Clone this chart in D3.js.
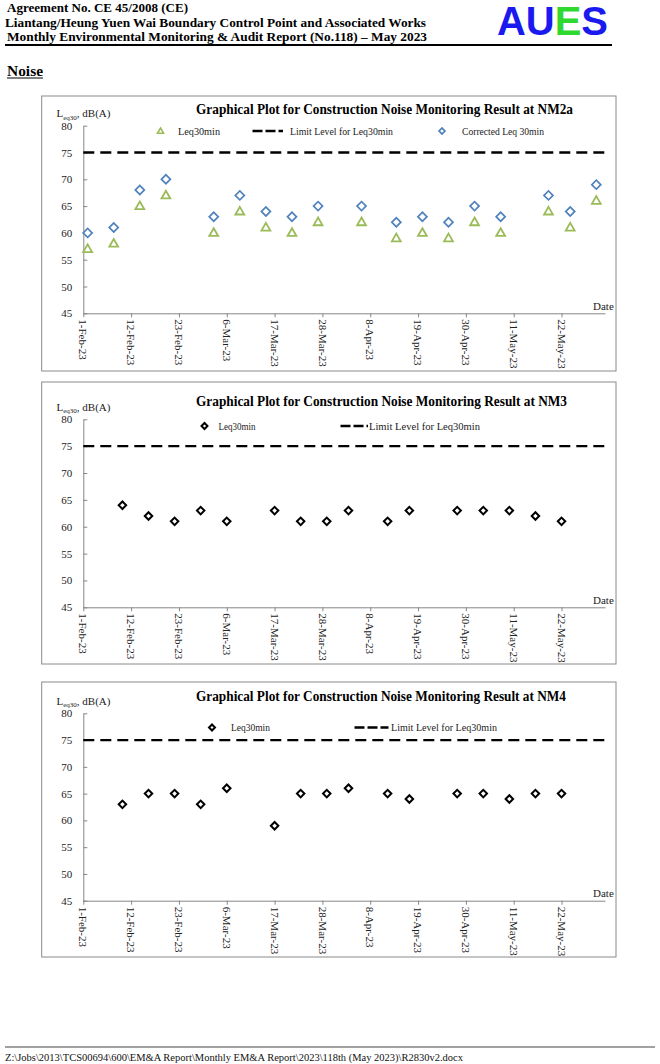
<!DOCTYPE html>
<html><head><meta charset="utf-8">
<script src="https://cdn.jsdelivr.net/npm/d3@7"></script>
<style>
body{margin:0;background:#fff}
svg{display:block}
text{font-family:"Liberation Serif","Times New Roman",serif}
text.logo{font-family:"Liberation Sans",Arial,sans-serif}
</style>
</head><body>
<svg id="c" width="660" height="1064"></svg>
<script>
// ---------- data ----------
const headerLines = [
  "Agreement No. CE 45/2008 (CE)",
  "Liantang/Heung Yuen Wai Boundary Control Point and Associated Works",
  "Monthly Environmental Monitoring & Audit Report (No.118) \u2013 May 2023"
];
const sectionTitle = "Noise";
const footerText = "Z:\\Jobs\\2013\\TCS00694\\600\\EM&A Report\\Monthly EM&A Report\\2023\\118th (May 2023)\\R2830v2.docx";
const xTickLabels = ["1-Feb-23","12-Feb-23","23-Feb-23","6-Mar-23","17-Mar-23","28-Mar-23","8-Apr-23","19-Apr-23","30-Apr-23","11-May-23","22-May-23"];
const xDomain = ["1-Feb-23","1-Jun-23"];
const yTickValues = [45,50,55,60,65,70,75,80];
const yDomain = [45,80];
const limitLevel = 75;

const nm2aDates = ["2023-02-02","2023-02-08","2023-02-14","2023-02-20","2023-03-03","2023-03-09","2023-03-15","2023-03-21","2023-03-27","2023-04-06","2023-04-14","2023-04-20","2023-04-26","2023-05-02","2023-05-08","2023-05-19","2023-05-24","2023-05-30"];
const nm2aLeq       = [57,58,65,67,60,64,61,60,62,62,59,60,59,62,60,64,61,66];
const nm2aCorrected = [60,61,68,70,63,67,64,63,65,65,62,63,62,65,63,67,64,69];

const nm3Dates = ["2023-02-10","2023-02-16","2023-02-22","2023-02-28","2023-03-06","2023-03-17","2023-03-23","2023-03-29","2023-04-03","2023-04-12","2023-04-17","2023-04-28","2023-05-04","2023-05-10","2023-05-16","2023-05-22"];
const nm3Leq = [64,62,61,63,61,63,61,61,63,61,63,63,63,63,62,61];

const nm4Dates = ["2023-02-10","2023-02-16","2023-02-22","2023-02-28","2023-03-06","2023-03-17","2023-03-23","2023-03-29","2023-04-03","2023-04-12","2023-04-17","2023-04-28","2023-05-04","2023-05-10","2023-05-16","2023-05-22"];
const nm4Leq = [63,65,65,63,66,59,65,65,66,65,64,65,65,64,65,65];

// ---------- drawing ----------
const svg = d3.select("#c");
const SERIF = "'Liberation Serif','Times New Roman',serif";
const parseDay = d3.utcParse("%Y-%m-%d");
const parseTick = d3.utcParse("%d-%b-%y");
const tickDates = xTickLabels.map(parseTick);
const x = d3.scaleUtc().domain(xDomain.map(parseTick)).range([83.3, 605]);
const axisColor = "#868686";
const BLUE = "#4f81bd", GREEN = "#9bbb59";

function fitText(t, w){ t.attr("textLength", w).attr("lengthAdjust","spacingAndGlyphs"); return t; }

// header
const hdr = [{y:11.5,w:181},{y:26.8,w:421},{y:41,w:420}];
headerLines.forEach((s,i)=>{
  fitText(svg.append("text").attr("x",i===1?5:7).attr("y",hdr[i].y).attr("font-size",13)
    .attr("font-weight","bold").attr("fill","#000").text(s), hdr[i].w);
});
svg.append("line").attr("x1",5).attr("x2",612).attr("y1",45).attr("y2",45).attr("stroke","#000").attr("stroke-width",1.8);
const logo = svg.append("text").attr("class","logo").attr("x",497).attr("y",35).attr("font-size",40)
  .attr("font-weight","bold");
[["AU","#1a1aef"],["E","#2fd92f"],["S","#1a1aef"]].forEach(([s,c])=>logo.append("tspan").attr("fill",c).text(s));
fitText(logo,111);

fitText(svg.append("text").attr("x",7).attr("y",75.5).attr("font-size",15).attr("font-weight","bold").text(sectionTitle),36);
svg.append("line").attr("x1",7).attr("x2",43).attr("y1",78).attr("y2",78).attr("stroke","#000").attr("stroke-width",1.2);

// footer
svg.append("line").attr("x1",5).attr("x2",655).attr("y1",1047).attr("y2",1047).attr("stroke","#444").attr("stroke-width",1);
fitText(svg.append("text").attr("x",5).attr("y",1061).attr("font-size",10).attr("fill","#111").text(footerText),458);

const diamond = (s)=> d3.symbol(d3.symbolSquare, s*s/2)();  // rotated 45deg -> diagonal = s
function drawPanel(cfg){
  const g = svg.append("g");
  g.append("rect").attr("x",cfg.box[0]).attr("y",cfg.box[1]).attr("width",cfg.box[2]-cfg.box[0]).attr("height",cfg.box[3]-cfg.box[1])
    .attr("fill","#fff").attr("stroke","#8a8a8a").attr("stroke-width",1);
  const y = d3.scaleLinear().domain(yDomain).range([cfg.yBottom, cfg.yTop]);

  // title
  fitText(g.append("text").attr("x",196).attr("y",cfg.titleY).attr("font-size",14).attr("font-weight","bold").text(cfg.title), cfg.titleW);
  // y label
  const yl = g.append("text").attr("x",56.5).attr("y",cfg.yTop-8.5).attr("font-size",11).attr("fill","#222");
  yl.append("tspan").text("L");
  yl.append("tspan").attr("font-size",7).attr("dy",2.5).text("eq30");
  yl.append("tspan").attr("dy",-2.5).text(", dB(A)");

  // y axis
  const ya = g.append("g").attr("transform",`translate(${x.range()[0]},0)`)
    .call(d3.axisLeft(y).tickValues(yTickValues).tickSizeInner(-4).tickSizeOuter(0).tickPadding(11));
  ya.attr("font-family",SERIF).attr("font-size",11);
  ya.select(".domain").attr("stroke",axisColor);
  ya.selectAll(".tick line").attr("stroke",axisColor);
  ya.selectAll(".tick text").attr("fill","#222");

  // x axis
  const xa = g.append("g").attr("transform",`translate(0,${cfg.yBottom})`)
    .call(d3.axisBottom(x).tickValues(tickDates).tickFormat((d,i)=>xTickLabels[i]).tickSizeInner(4).tickSizeOuter(0));
  xa.attr("font-family",SERIF).attr("font-size",11);
  xa.select(".domain").attr("stroke",axisColor);
  xa.selectAll(".tick line").attr("stroke",axisColor);
  xa.selectAll(".tick text").attr("fill","#222").attr("transform","rotate(90)")
    .attr("x",6).attr("y",0).attr("dy","0.4em").attr("text-anchor","start");
  g.append("text").attr("x",593).attr("y",cfg.yBottom-3.5).attr("font-size",11).attr("fill","#222").text("Date");

  // limit line
  g.append("line").attr("x1",x.range()[0]).attr("x2",x.range()[1]).attr("y1",y(limitLevel)).attr("y2",y(limitLevel))
    .attr("stroke","#000").attr("stroke-width",2.3).attr("stroke-dasharray","11,6");

  // series
  cfg.series.forEach(s=>{
    const pts = s.dates.map((d,i)=>({d:parseDay(d), v:s.values[i]}));
    g.append("g").selectAll("path").data(pts).join("path")
      .attr("d", s.shape==="tri" ? d3.symbol(d3.symbolTriangle, 34)() : diamond(s.size))
      .attr("transform", p=>`translate(${x(p.d)},${y(p.v)})` + (s.shape==="tri"?" translate(0,0.5)":" rotate(45)"))
      .attr("fill","#fff").attr("stroke",s.color).attr("stroke-width",s.sw);
  });

  // legend
  const ly = cfg.legendY;
  cfg.legend.forEach(L=>{
    if(L.kind==="tri"){
      g.append("path").attr("d",d3.symbol(d3.symbolTriangle,16)()).attr("transform",`translate(${L.mx},${ly+0.5})`)
        .attr("fill","#fff").attr("stroke",L.color).attr("stroke-width",1.6);
    } else if(L.kind==="dia"){
      g.append("path").attr("d",diamond(L.size)).attr("transform",`translate(${L.mx},${ly}) rotate(45)`)
        .attr("fill","#fff").attr("stroke",L.color).attr("stroke-width",L.sw);
    } else {
      g.append("line").attr("x1",L.mx).attr("x2",L.mx2).attr("y1",ly).attr("y2",ly)
        .attr("stroke","#000").attr("stroke-width",2.3).attr("stroke-dasharray","10,3");
    }
    fitText(g.append("text").attr("x",L.tx).attr("y",ly+3.5).attr("font-size",10).attr("fill","#222").text(L.text), L.tw);
  });
}

drawPanel({
  box:[41.7,96,616,371], yTop:125.7, yBottom:313.3, titleY:114, titleW:377,
  title:"Graphical Plot for Construction Noise Monitoring Result at NM2a",
  legendY:131,
  series:[
    {dates:nm2aDates, values:nm2aLeq, shape:"tri", color:GREEN, sw:1.8},
    {dates:nm2aDates, values:nm2aCorrected, shape:"dia", size:9, color:BLUE, sw:1.7}
  ],
  legend:[
    {kind:"tri", mx:160.5, color:GREEN, tx:178, text:"Leq30min", tw:42},
    {kind:"dash", mx:252.5, mx2:283, tx:290, text:"Limit Level for Leq30min", tw:103},
    {kind:"dia", mx:442, size:6, color:BLUE, sw:1.6, tx:462, text:"Corrected Leq 30min", tw:82}
  ]
});
drawPanel({
  box:[41.7,382,616,664], yTop:419.3, yBottom:607.3, titleY:406, titleW:371,
  title:"Graphical Plot for Construction Noise Monitoring Result at NM3",
  legendY:426,
  series:[{dates:nm3Dates, values:nm3Leq, shape:"dia", size:7.5, color:"#000", sw:2}],
  legend:[
    {kind:"dia", mx:204.5, size:6, color:"#000", sw:2, tx:218.5, text:"Leq30min", tw:37},
    {kind:"dash", mx:340.5, mx2:368, tx:369, text:"Limit Level for Leq30min", tw:111}
  ]
});
drawPanel({
  box:[41.7,682,616,957], yTop:713.3, yBottom:900.7, titleY:701, titleW:370,
  title:"Graphical Plot for Construction Noise Monitoring Result at NM4",
  legendY:727.5,
  series:[{dates:nm4Dates, values:nm4Leq, shape:"dia", size:7.5, color:"#000", sw:2}],
  legend:[
    {kind:"dia", mx:212, size:6, color:"#000", sw:2, tx:231, text:"Leq30min", tw:39},
    {kind:"dash", mx:354.5, mx2:388.5, tx:391, text:"Limit Level for Leq30min", tw:106}
  ]
});
</script>
</body></html>
